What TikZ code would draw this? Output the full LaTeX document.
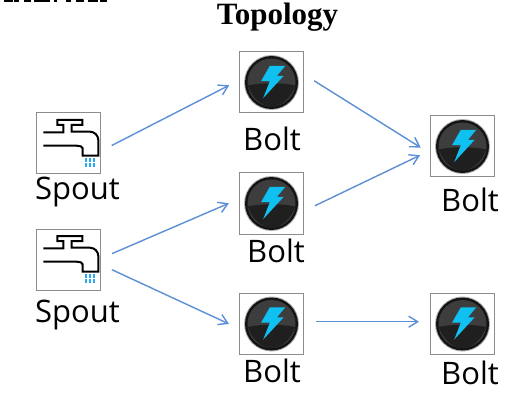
\documentclass[tikz,border=0pt]{standalone}
\usepackage{fontspec}
\setmainfont{Liberation Serif}
\newfontfamily\lblfont{Open Sans}
\usetikzlibrary{arrows.meta}

\definecolor{flowblue}{HTML}{5B8FD6}
\definecolor{dropblue}{HTML}{2AA8F0}
\definecolor{boltblue}{HTML}{10C0F0}
\definecolor{iconedge}{HTML}{8C8C8C}

% icons, in pixels round the centre of their box
\newcommand{\faucetpic}[1]{%
  \begin{scope}[shift={(#1)}]
    \draw[black, line width=2pt, line join=miter]
      (-25.2,-11.2) -- (-5.2,-11.2) -- (-5.2,-18.5) -- (-11.2,-18.5) -- (-11.2,-23.5)
      -- (13.8,-23.5) -- (13.8,-18.5) -- (3.2,-18.5) -- (3.2,-11.8) -- (21.5,-11.8)
      .. controls (26,-11.8) and (29.8,-8) .. (29.8,-3.5) -- (29.8,12.2) -- (14.2,12.2) -- (14.2,4.8)
      .. controls (14.2,3) and (11,2.2) .. (8.2,2.2) -- (-25.2,2.2);
    \foreach \dropx in {17.5,21.5,25.8} \foreach \dropy in {16.5,21.5}
      \fill[dropblue] (\dropx-1.1,\dropy-1.7) rectangle (\dropx+1.1,\dropy+1.7);
  \end{scope}}
\newcommand{\boltpic}[1]{%
  \begin{scope}[shift={(#1)}]
    \fill[black!30] (0,0) circle (27.5);
    \fill[black!92] (0,0) circle (26.5);
    \fill[black!76] (0,0) circle (24);
    \fill[black!88] (-23.8,3) .. controls (-10,0) and (10,0) .. (23.8,3)
      .. controls (19,16) and (10,24) .. (0,24) .. controls (-10,24) and (-19,16) .. (-23.8,3) -- cycle;
    \fill[boltblue] (-1.7,-16.7) -- (13.8,-16.7) -- (5.5,-6.7) -- (12.2,-6.7) -- (-8.3,15.6)
      -- (-1.7,-1.3) -- (-10.5,-1.3) -- cycle;
  \end{scope}}

\begin{document}
\begin{tikzpicture}[
    x=1pt,y=-1pt,
    iconbox/.style={draw=iconedge, line width=1pt, fill=white, minimum width=64pt, minimum height=61pt, inner sep=0pt},
    lbl/.style={font=\lblfont\fontsize{31}{36}\selectfont, inner sep=0pt},
    flow/.style={-{Straight Barb[length=9pt,width=11pt]}, draw=flowblue, line width=1.4pt, shorten <=12pt, shorten >=11pt},
  ]
  \useasboundingbox (0,0) rectangle (519,406);

  % Clipped line at the top edge
  \foreach \fx/\fw in {4/9,14/5,24/7,34/16,54/3,66/5,76/8,88/10,100/7}
    \fill[black] (\fx,0) rectangle (\fx+\fw,1.6);

  \node[font=\bfseries\fontsize{31}{36}\selectfont, inner sep=0pt] (title) at (277.5,17) {Topology};

  % Boxes
  \node[iconbox] (spoutA) at (68.5,143.5) {};
  \node[iconbox] (spoutB) at (68.5,259.5) {};
  \node[iconbox] (boltA) at (271.5,82.5) {};
  \node[iconbox] (boltB) at (271.5,203.5) {};
  \node[iconbox] (boltC) at (271.5,324) {};
  \node[iconbox] (boltD) at (462.5,146.5) {};
  \node[iconbox] (boltE) at (462.5,324) {};

  % Icons
  \foreach \p in {spoutA,spoutB} \faucetpic{\p};
  \foreach \p in {boltA,boltB,boltC,boltD,boltE} \boltpic{\p};

  % Labels
  \node[lbl] (spoutAlbl) at (77.5,192) {Spout};
  \node[lbl] (spoutBlbl) at (77.5,315) {Spout};
  \node[lbl] (boltAlbl) at (272,139) {Bolt};
  \node[lbl] (boltBlbl) at (276,251) {Bolt};
  \node[lbl] (boltClbl) at (272,371) {Bolt};
  \node[lbl] (boltDlbl) at (470,200) {Bolt};
  \node[lbl] (boltElbl) at (470,373) {Bolt};

  % Streams
  \draw[flow] (spoutA.-13) -- (boltA.176);
  \draw[flow] (spoutB.2) -- (boltB.172);
  \draw[flow] (spoutB.-9) -- (boltC.188);
  \draw[flow] (boltA.14) -- (boltD.192);
  \draw[flow] (boltB.-13) -- (boltD.187);
  \draw[flow] (boltC.4) -- (boltE.176);
\end{tikzpicture}
\end{document}
